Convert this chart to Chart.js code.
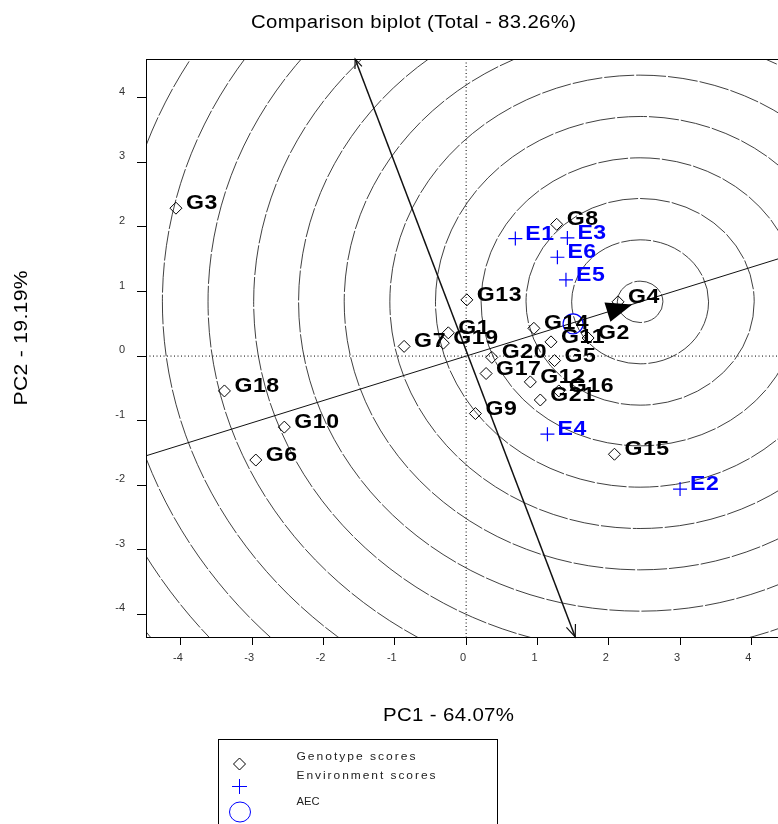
<!DOCTYPE html>
<html><head><meta charset="utf-8">
<script src="https://cdn.jsdelivr.net/npm/chart.js@4.4.0/dist/chart.umd.min.js"></script>
<style>
html,body{margin:0;padding:0;background:#fff;overflow:hidden;width:778px;height:824px}
#wrap{position:absolute;left:0;top:0;width:800px;height:824px}
</style>
</head><body>
<div id="wrap"><canvas id="c" width="800" height="824"></canvas></div>
<script>
// ---- data ----
const genotypeNames = ['G1','G2','G3','G4','G5','G6','G7','G8','G9','G10','G11','G12','G13','G14','G15','G16','G17','G18','G19','G20','G21'];
const genotypeX = [-0.25, 1.71, -4.07, 2.13, 1.24, -2.95, -0.87, 1.27, 0.13, -2.55, 1.19, 0.90, 0.01, 0.95, 2.08, 1.30, 0.28, -3.39, -0.32, 0.36, 1.04];
const genotypeY = [0.36, 0.28, 2.29, 0.84, -0.07, -1.61, 0.15, 2.04, -0.89, -1.10, 0.22, -0.40, 0.87, 0.43, -1.52, -0.54, -0.27, -0.54, 0.20, -0.02, -0.68];
const envNames = ['E1','E2','E3','E4','E5','E6'];
const envX = [0.69, 3.00, 1.42, 1.14, 1.40, 1.28];
const envY = [1.82, -2.06, 1.83, -1.21, 1.18, 1.53];
const aecPoint = [1.50, 0.50];
const idealPoint = [2.44, 0.84];
const idealArrowTip = [2.33, 0.80];
const circleRadii = [0.32, 0.96, 1.60, 2.23, 2.87, 3.51, 4.15, 4.79, 5.42, 6.06, 6.70, 7.34, 7.97, 8.61, 9.25];
const aecSlope = 0.344;
const ordinateStart = [-1.557, 4.60];
const ordinateEnd = [1.53, -4.35];
const xTicks = [-4, -3, -2, -1, 0, 1, 2, 3, 4];
const xTickLabels = ['-4', '-3', '-2', '-1', '0', '1', '2', '3', '4'];
const yTicks = [-4, -3, -2, -1, 0, 1, 2, 3, 4];
const yTickLabels = ['-4', '-3', '-2', '-1', '0', '1', '2', '3', '4'];
const xRange = [-4.49, 4.50];
const yRange = [-4.35, 4.60];
const titleText = 'Comparison biplot (Total - 83.26%)';
const xTitle = 'PC1 - 64.07%';
const yTitle = 'PC2 - 19.19%';
const legendLabels = ['Genotype scores', 'Environment scores', 'AEC'];

const FONT = '"Liberation Sans", Arial, sans-serif';
const BLUE = '#0000ff';

// text stretched to a target width (scale), with optional extra letter spacing
function drawFit(ctx, text, x, y, font, color, targetWidth, align, ls) {
  ctx.save();
  ctx.font = font; ctx.fillStyle = color; ctx.textBaseline = 'middle'; ctx.textAlign = 'left';
  ls = ls || 0;
  if ('letterSpacing' in ctx) ctx.letterSpacing = ls + 'px';
  const w0 = ctx.measureText(text).width - ls;
  const sx = targetWidth ? targetWidth / w0 : 1;
  const total = w0 * sx;
  let left = x;
  if (align === 'center') left = x - total / 2;
  ctx.translate(left, y); ctx.scale(sx, 1);
  ctx.fillText(text, 0, 0);
  ctx.restore();
}

function arrowHead(ctx, x1, y1, x2, y2, len, ang) {
  const a = Math.atan2(y2 - y1, x2 - x1);
  ctx.beginPath();
  ctx.moveTo(x2 - len * Math.cos(a - ang), y2 - len * Math.sin(a - ang));
  ctx.lineTo(x2, y2);
  ctx.lineTo(x2 - len * Math.cos(a + ang), y2 - len * Math.sin(a + ang));
  ctx.stroke();
}

const biplotPlugin = {
  id: 'biplot',
  beforeDatasetsDraw(chart) {
    const ctx = chart.ctx, ca = chart.chartArea;
    const xs = chart.scales.x, ys = chart.scales.y;
    const px = v => xs.getPixelForValue(v), py = v => ys.getPixelForValue(v);
    ctx.save();
    ctx.beginPath(); ctx.rect(ca.left, ca.top, ca.right - ca.left, ca.bottom - ca.top); ctx.clip();
    // concentric circles
    ctx.strokeStyle = '#2a2a2a'; ctx.lineWidth = 0.9; ctx.setLineDash([30, 2]);
    const cx = px(idealPoint[0]), cy = py(idealPoint[1]);
    circleRadii.forEach(r => {
      const rx = Math.abs(px(r) - px(0)), ry = Math.abs(py(r) - py(0));
      ctx.beginPath(); ctx.ellipse(cx, cy, rx, ry, 0, 0, Math.PI * 2); ctx.stroke();
    });
    // dotted axes
    ctx.setLineDash([1, 2.5]); ctx.strokeStyle = '#000'; ctx.lineWidth = 1;
    ctx.beginPath(); ctx.moveTo(px(0), ca.top); ctx.lineTo(px(0), ca.bottom); ctx.stroke();
    ctx.beginPath(); ctx.moveTo(ca.left, py(0)); ctx.lineTo(ca.right, py(0)); ctx.stroke();
    // AEC abscissa
    ctx.setLineDash([]); ctx.strokeStyle = '#111'; ctx.lineWidth = 1;
    ctx.beginPath(); ctx.moveTo(px(xRange[0]), py(xRange[0] * aecSlope));
    ctx.lineTo(px(xRange[1]), py(xRange[1] * aecSlope)); ctx.stroke();
    ctx.restore();
    // ordinate arrow
    ctx.save();
    ctx.strokeStyle = '#111'; ctx.lineWidth = 1.5;
    const sx1 = px(ordinateStart[0]), sy1 = py(ordinateStart[1]);
    const sx2 = px(ordinateEnd[0]), sy2 = py(ordinateEnd[1]);
    ctx.beginPath(); ctx.moveTo(sx1, sy1); ctx.lineTo(sx2, sy2); ctx.stroke();
    ctx.lineWidth = 1.2;
    arrowHead(ctx, sx1, sy1, sx2, sy2, 13, 0.38);
    arrowHead(ctx, sx2, sy2, sx1, sy1, 10, 0.38);
    // filled arrowhead towards ideal genotype
    const tx = px(idealArrowTip[0]), ty = py(idealArrowTip[1]);
    const a = Math.atan2(ty - py(0), tx - px(0));
    const L = 26, W = 10;
    const bx = tx - L * Math.cos(a), by = ty - L * Math.sin(a);
    ctx.fillStyle = '#000';
    ctx.beginPath(); ctx.moveTo(tx, ty);
    ctx.lineTo(bx + W * Math.sin(a), by - W * Math.cos(a));
    ctx.lineTo(bx - W * Math.sin(a), by + W * Math.cos(a));
    ctx.closePath(); ctx.fill();
    ctx.restore();
  },
  afterDatasetsDraw(chart) {
    const ctx = chart.ctx, ca = chart.chartArea;
    const xs = chart.scales.x, ys = chart.scales.y;
    const px = v => xs.getPixelForValue(v), py = v => ys.getPixelForValue(v);
    // point labels
    const drawLabel = (t, x, y, color) => {
      ctx.save();
      ctx.font = 'bold 21px ' + FONT; ctx.fillStyle = color;
      ctx.textBaseline = 'alphabetic'; ctx.textAlign = 'left';
      if ('letterSpacing' in ctx) ctx.letterSpacing = '0.5px';
      ctx.translate(x + 10, y + 1); ctx.scale(1.1, 1);
      ctx.fillText(t, 0, 0);
      ctx.restore();
    };
    genotypeNames.forEach((n, i) => drawLabel(n, px(genotypeX[i]), py(genotypeY[i]), '#000'));
    envNames.forEach((n, i) => drawLabel(n, px(envX[i]), py(envY[i]), BLUE));
    // plot frame
    ctx.save();
    ctx.strokeStyle = '#000'; ctx.lineWidth = 1;
    ctx.strokeRect(ca.left + 0.5, ca.top + 0.5, ca.right - ca.left, ca.bottom - ca.top);
    ctx.restore();
    // titles
    drawFit(ctx, titleText, 413.5, 23, '18px ' + FONT, '#000', 325, 'center', 0.3);
    drawFit(ctx, xTitle, 448.5, 716, '18px ' + FONT, '#000', 131, 'center', 0.3);
    ctx.save();
    ctx.translate(22, 338); ctx.rotate(-Math.PI / 2);
    drawFit(ctx, yTitle, 0, 0, '19px ' + FONT, '#000', 135, 'center', 0.3);
    ctx.restore();
    // legend
    ctx.save();
    ctx.strokeStyle = '#000'; ctx.lineWidth = 1;
    ctx.strokeRect(218.5, 739.5, 279, 120);
    ctx.beginPath(); ctx.moveTo(239.5, 758); ctx.lineTo(245.5, 764); ctx.lineTo(239.5, 770); ctx.lineTo(233.5, 764); ctx.closePath(); ctx.stroke();
    ctx.strokeStyle = BLUE;
    ctx.beginPath(); ctx.moveTo(232, 786.5); ctx.lineTo(247, 786.5); ctx.moveTo(239.5, 779); ctx.lineTo(239.5, 794); ctx.stroke();
    ctx.beginPath(); ctx.ellipse(240, 812, 10.5, 10, 0, 0, Math.PI * 2); ctx.stroke();
    ctx.restore();
    drawFit(ctx, legendLabels[0], 296.5, 757, '11px ' + FONT, '#222', 119, 'left', 1.8);
    drawFit(ctx, legendLabels[1], 296.5, 776, '11px ' + FONT, '#222', 139, 'left', 1.8);
    drawFit(ctx, legendLabels[2], 296.5, 802, '11px ' + FONT, '#222', 23, 'left', 0);
  }
};

const tickFont = { family: FONT, size: 11 };
new Chart(document.getElementById('c'), {
  type: 'scatter',
  data: {
    datasets: [
      {
        label: legendLabels[0],
        data: genotypeNames.map((n, i) => ({ x: genotypeX[i], y: genotypeY[i] })),
        pointStyle: 'rectRot', pointRadius: 6, borderColor: '#000',
        backgroundColor: 'rgba(255,255,255,0)', borderWidth: 1
      },
      {
        label: legendLabels[1],
        data: envNames.map((n, i) => ({ x: envX[i], y: envY[i] })),
        pointStyle: 'cross', pointRadius: 7, borderColor: BLUE, borderWidth: 1.2
      },
      {
        label: legendLabels[2],
        data: [{ x: aecPoint[0], y: aecPoint[1] }],
        pointStyle: 'circle', pointRadius: 10, borderColor: BLUE,
        backgroundColor: 'rgba(255,255,255,0)', borderWidth: 1.2
      }
    ]
  },
  options: {
    responsive: false, animation: false, devicePixelRatio: 1,
    layout: { padding: { left: 0, right: 13, top: 59, bottom: 0 } },
    plugins: { legend: { display: false }, tooltip: { enabled: false }, title: { display: false } },
    scales: {
      x: {
        type: 'linear', position: 'bottom', min: xRange[0], max: xRange[1],
        afterFit(s) { s.height = 187; },
        afterBuildTicks(s) { s.ticks = xTicks.map(v => ({ value: v })); },
        grid: { drawOnChartArea: false, drawTicks: true, tickLength: 8, color: '#000', tickColor: '#000' },
        border: { display: true, color: '#000', width: 1 },
        ticks: { font: tickFont, color: '#333', padding: 6, labelOffset: -3, maxRotation: 0, autoSkip: false,
          callback: (v, i) => xTickLabels[i] }
      },
      y: {
        type: 'linear', position: 'left', min: yRange[0], max: yRange[1],
        afterFit(s) { s.width = 146; },
        afterBuildTicks(s) { s.ticks = yTicks.map(v => ({ value: v })); },
        grid: { drawOnChartArea: false, drawTicks: true, tickLength: 9, color: '#000', tickColor: '#000' },
        border: { display: true, color: '#000', width: 1 },
        ticks: { font: tickFont, color: '#333', padding: 12, labelOffset: -6, autoSkip: false,
          callback: (v, i) => yTickLabels[i] }
      }
    }
  },
  plugins: [biplotPlugin]
});
</script>
</body></html>
